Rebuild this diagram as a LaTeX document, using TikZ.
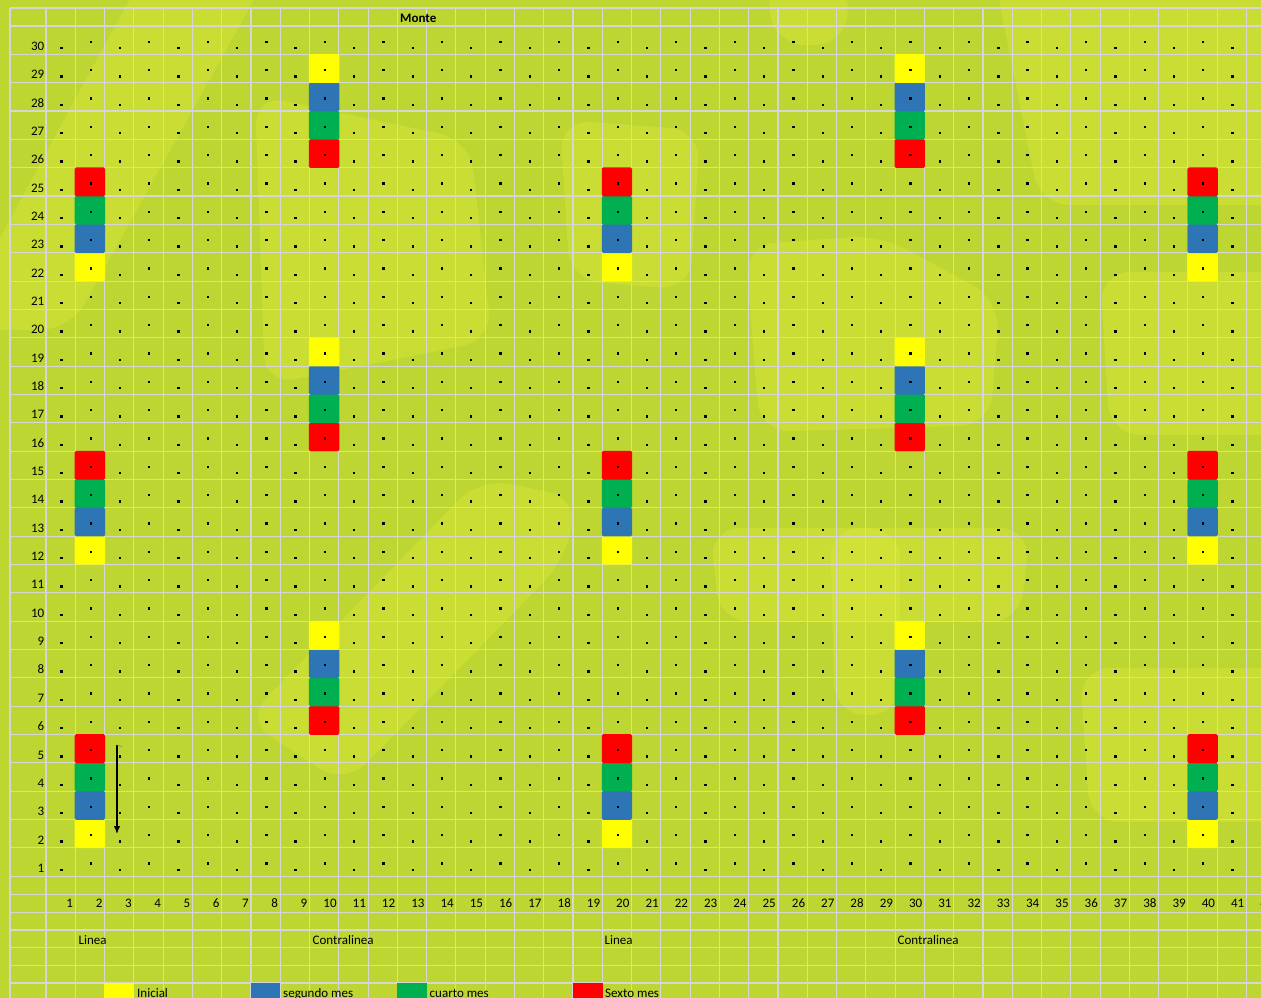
\documentclass[tikz,border=0pt]{standalone}
\usepackage{fontspec}
\setmainfont{Carlito}
\usepackage{tikz}
\usetikzlibrary{arrows, arrows.meta}
\definecolor{hoja}{HTML}{BED632}
\definecolor{brillo}{HTML}{DAE737}
\definecolor{rejilla}{HTML}{D6D6D6}
\definecolor{inicial}{HTML}{FFFF00}
\definecolor{segundo}{HTML}{2E75B6}
\definecolor{cuarto}{HTML}{00B050}
\definecolor{sexto}{HTML}{FF0000}
\tikzset{celda/.style = {shape = rectangle, minimum width = 30.4pt, minimum height = 28.9pt, inner sep = 0pt, rounded corners = 1.5pt}}
\tikzset{muestra/.style = {shape = rectangle, minimum width = 29.6pt, minimum height = 17.7pt, inner sep = 0pt}}
\tikzset{numero/.style = {anchor = base east, inner sep = 0pt, font = \fontsize{13}{15}\selectfont}}
\tikzset{etiqueta/.style = {anchor = base west, inner sep = 0pt, font = \fontsize{13}{15}\selectfont}}
\tikzset{luz/.style = {fill = brillo, opacity = 0.45, rounded corners = 30pt}}
\tikzset{edge/.style = {->, > = {Latex[length=8pt, width=6.5pt]}, line width = 1.3pt}}

\begin{document}
\begin{tikzpicture}[x = 1pt, y = -1pt]
	\useasboundingbox (0, 0) rectangle (1261, 998);
	\clip (0, 0) rectangle (1261, 998);

	% fondo con textura
	\fill[hoja] (0, 0) rectangle (1261, 998);
	\fill[luz] (140, -20) -- (265, -20) -- (70, 330) -- (-50, 330) -- cycle;
	\fill[luz] (255, 95) -- (470, 140) -- (492, 340) -- (265, 385) -- cycle;
	\fill[luz] (480, 478) -- (578, 498) -- (565, 560) -- (345, 785) -- (245, 720) -- cycle;
	\fill[luz] (745, 245) -- (880, 235) -- (1000, 300) -- (990, 425) -- (760, 432) -- cycle;
	\fill[luz] (995, -20) -- (1290, -20) -- (1290, 205) -- (1040, 205) -- cycle;
	\fill[luz] (1100, 272) -- (1290, 272) -- (1290, 435) -- (1110, 435) -- cycle;
	\fill[luz] (710, 528) -- (1030, 528) -- (1020, 622) -- (720, 622) -- cycle;
	\fill[luz] (830, 528) -- (900, 528) -- (900, 715) -- (835, 715) -- cycle;
	\fill[luz] (1080, 668) -- (1290, 668) -- (1290, 822) -- (1090, 822) -- cycle;
	\fill[luz] (765, -20) -- (850, -20) -- (845, 45) -- (775, 45) -- cycle;
	\fill[luz] (560, 120) -- (700, 130) -- (690, 290) -- (570, 280) -- cycle;

	% rejilla
	\foreach \y in {8, 26} \draw[rejilla, line width = 1.1pt] (10, \y) -- (1261, \y);
	\foreach \k in {1,...,30} \draw[rejilla, line width = 1.1pt] (10, {26 + \k*28.34}) -- (1261, {26 + \k*28.34});
	\foreach \k in {1,...,6} \draw[rejilla, line width = 1.1pt] (10, {876.9 + \k*17.68}) -- (1261, {876.9 + \k*17.68});
	\draw[rejilla, line width = 1.1pt] (10, 8) -- (10, 998);
	\foreach \k in {0,...,41} \draw[rejilla, line width = 1.1pt] ({46 + \k*29.28}, 8) -- ({46 + \k*29.28}, 998);

	% Linea: columnas 2, 20, 40
	\foreach \c in {2, 20, 40} {
		\foreach \b in {2, 12, 22} {
			\foreach \d/\tono in {0/inicial, 1/segundo, 2/cuarto, 3/sexto} {
				\pgfmathtruncatemacro\r{\b + \d}
				\node[celda, fill = \tono] (p\c-\r) at ({46 + (\c - 0.5)*29.28}, {26 + (30 - \r)*28.34 + 14.17}) {};
			}
		}
	}
	% Contralinea: columnas 10, 30
	\foreach \c in {10, 30} {
		\foreach \b in {6, 16, 26} {
			\foreach \d/\tono in {0/sexto, 1/cuarto, 2/segundo, 3/inicial} {
				\pgfmathtruncatemacro\r{\b + \d}
				\node[celda, fill = \tono] (p\c-\r) at ({46 + (\c - 0.5)*29.28}, {26 + (30 - \r)*28.34 + 14.17}) {};
			}
		}
	}

	% puntos de plantacion
	\foreach \c in {1,...,42} {
		\pgfmathsetmacro\dy{mod(\c, 2) == 1 ? 22 : 15.7}
		\foreach \r in {1,...,30} {
			\fill[black] ({46 + (\c - 0.5)*29.28 - 0.4}, {26 + (30 - \r)*28.34 + \dy - 1.1}) rectangle ++(2.3, 2.3);
		}
	}

	% numeros de fila y columna
	\foreach \r in {1,...,30}
		\node[numero] (f\r) at (44.5, {26 + (30 - \r)*28.34 + 24.5}) {\r};
	\foreach \c in {1,...,42}
		\node[numero] (c\c) at ({46 + \c*29.28 - 2}, 907.8) {\c};

	\node[etiqueta, font = \fontsize{13}{15}\selectfont\bfseries] (monte) at (400, 22.5) {Monte};
	\node[etiqueta] (linea1) at (78.5, 944) {Linea};
	\node[etiqueta] (contra1) at (312.5, 944) {Contralinea};
	\node[etiqueta] (linea2) at (604.5, 944) {Linea};
	\node[etiqueta] (contra2) at (897.5, 944) {Contralinea};

	% leyenda
	\node[muestra, fill = inicial] (l1) at (119.2, 992) {};
	\node[muestra, fill = segundo] (l2) at (265.6, 992) {};
	\node[muestra, fill = cuarto] (l3) at (412, 992) {};
	\node[muestra, fill = sexto] (l4) at (587.7, 992) {};
	\node[etiqueta] (t1) at (137, 997.6) {Inicial};
	\node[etiqueta] (t2) at (283, 997.6) {segundo mes};
	\node[etiqueta] (t3) at (429.5, 997.6) {cuarto mes};
	\node[etiqueta] (t4) at (605, 997.6) {Sexto mes};

	% flecha
	\coordinate (ini) at (117, 745);
	\coordinate (fin) at (117, 834);
	\draw[edge] (ini) to (fin);
	\draw[segundo!80, line width = 0.7pt] (ini) -- ++(5, 1.5);
\end{tikzpicture}
\end{document}
